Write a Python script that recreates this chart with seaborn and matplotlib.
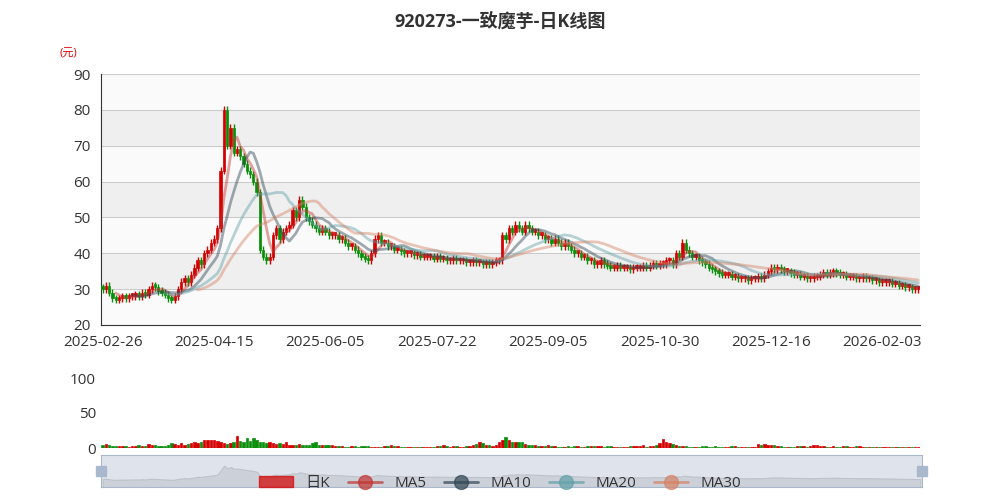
import numpy as np
import pandas as pd
import matplotlib
matplotlib.use('Agg')
import matplotlib.pyplot as plt
from matplotlib.lines import Line2D
from matplotlib.patches import Patch
import seaborn as sns

sns.set_style('white')
plt.rcParams['font.family'] = ['Open Sans', 'Noto Sans CJK SC', 'DejaVu Sans']
plt.rcParams['axes.unicode_minus'] = False

# 收盘价 (估读)
closes = [
    30, 31, 29, 27.5, 27, 27.5, 28, 27.5, 28, 28,
    28.5, 28, 29, 28.5, 30, 31, 30.5, 29.5, 29, 28.5,
    27.5, 27, 28, 30, 32, 33, 32, 34, 36, 38,
    37, 40, 41, 43, 44, 47, 63, 80, 70, 75,
    68, 69, 67, 65, 63, 62, 60, 57, 41, 39,
    38, 39, 45, 47, 44, 46, 47, 48, 52, 50,
    55, 53, 50, 49, 48, 47, 46, 47, 46, 45,
    45, 45, 44, 44, 43, 42, 42, 41, 40, 39,
    38.5, 38, 40, 44, 45, 43, 43, 42, 42, 41,
    41, 40.5, 40, 40, 40, 39.5, 39.5, 39, 39, 39,
    39, 38.5, 39, 38.5, 38.5, 38, 38, 38.5, 38, 38,
    38, 37.5, 37.5, 38, 37.5, 37.5, 37, 37.5, 37, 37.5,
    38, 38, 45, 44, 47, 46, 48, 47, 46, 48,
    47, 46, 46, 45, 45, 44, 44, 43, 44, 43,
    42, 43, 42, 41, 40, 40, 39, 39, 38, 38,
    37, 37, 38, 37, 36.5, 36, 36, 36.5, 36, 36,
    36, 35.5, 36, 36, 36, 36.5, 36, 36.5, 37, 36.5,
    37, 37, 38, 38, 37, 40, 39, 43, 41, 40,
    39, 39, 38, 37.5, 37, 36, 35.5, 35, 34.5, 34,
    34, 34, 33.5, 33.5, 33, 33, 33, 32.5, 33, 33,
    33.5, 33, 34, 35, 36, 35.5, 36, 35.5, 35, 35,
    34.5, 34, 34, 33.5, 33.5, 33, 33, 33.5, 33.5, 34,
    34.5, 34, 34.5, 35, 34.5, 34, 34, 33.5, 33.5, 33.5,
    33, 33, 33.5, 33, 33, 32.5, 32.5, 32, 32, 32,
    32, 31.5, 31.5, 31, 31, 30.5, 30.5, 30, 30, 30,
]
first_open = 30.5

# 成交量 (估读)
volumes = [
    4, 6, 5, 3, 3, 3, 3, 3, 2, 3,
    3, 4, 3, 3, 6, 5, 4, 3, 3, 3,
    5, 7, 6, 5, 7, 5, 6, 7, 8, 7,
    8, 12, 11, 11, 11, 10, 8, 7, 6, 7,
    8, 17, 10, 9, 14, 10, 15, 11, 9, 8,
    7, 9, 7, 6, 7, 6, 8, 5, 5, 5,
    6, 5, 4, 4, 7, 8, 5, 5, 4, 4,
    4, 3, 3, 3, 2, 2, 3, 3, 2, 3,
    3, 3, 2, 2, 2, 2, 3, 3, 4, 3,
    3, 2, 2, 2, 2, 2, 2, 2, 2, 2,
    2, 2, 3, 3, 4, 3, 2, 3, 3, 2,
    2, 3, 3, 5, 6, 9, 7, 5, 4, 3,
    5, 8, 11, 16, 11, 9, 8, 9, 8, 6,
    5, 4, 4, 3, 3, 3, 4, 3, 3, 2,
    2, 2, 3, 2, 3, 3, 2, 2, 3, 3,
    3, 3, 3, 2, 3, 3, 2, 2, 2, 2,
    2, 3, 3, 3, 3, 4, 2, 3, 3, 5,
    7, 13, 9, 7, 6, 4, 3, 3, 3, 2,
    2, 2, 2, 3, 3, 2, 2, 3, 2, 2,
    2, 2, 3, 3, 2, 2, 2, 2, 2, 2,
    6, 5, 6, 5, 4, 4, 3, 3, 2, 2,
    2, 2, 3, 3, 3, 2, 3, 4, 4, 3,
    3, 2, 2, 3, 2, 2, 3, 3, 2, 2,
    3, 3, 2, 2, 2, 2, 2, 2, 2, 2,
    2, 2, 2, 2, 2, 2, 2, 2, 2, 2,
]

tick_idx = [0, 34, 68, 102, 136, 170, 204, 238]
tick_labels = ['2025-02-26', '2025-04-15', '2025-06-05', '2025-07-22',
               '2025-09-05', '2025-10-30', '2025-12-16', '2026-02-03']

n = len(closes)
df = pd.DataFrame({'idx': np.arange(n), 'close': closes, 'vol': volumes[:n]})
df['open'] = [first_open] + closes[:-1]
df['high'] = df[['open', 'close']].max(axis=1) + 1.0
df['low'] = df[['open', 'close']].min(axis=1) - 1.0
df['up'] = df['close'] >= df['open']

UP, DOWN = '#d40000', '#0a8f0a'
ma_colors = {'MA5': '#c23531', 'MA10': '#2f4554', 'MA20': '#61a0a8', 'MA30': '#d48265'}

fig = plt.figure(figsize=(10, 5), dpi=100)
ax = fig.add_axes([0.101, 0.35, 0.819, 0.502])
axv = fig.add_axes([0.101, 0.104, 0.819, 0.14])
axs = fig.add_axes([0.101, 0.026, 0.821, 0.064])

# 背景分区
for k, lo in enumerate(range(20, 90, 10)):
    ax.axhspan(lo, lo + 10, color='#fafafa' if k % 2 == 0 else '#efefef', zorder=0, lw=0)
for y in range(30, 100, 10):
    ax.axhline(y, color='#cccccc', lw=0.8, zorder=1)

cols = np.where(df['up'], UP, DOWN)
ax.vlines(df['idx'], df['low'], df['high'], colors=cols, lw=1.0, zorder=3)
ax.bar(df['idx'], (df['close'] - df['open']).abs().clip(lower=0.8),
       bottom=df[['open', 'close']].min(axis=1), width=0.7, color=cols,
       edgecolor=cols, linewidth=0.5, zorder=3)

for name, col in ma_colors.items():
    w = int(name[2:])
    ma = df['close'].rolling(w).mean()
    sns.lineplot(x=df['idx'], y=ma, ax=ax, color=col, lw=2, alpha=0.45, zorder=4)

ax.set_xlim(-0.5, n - 0.5)
ax.set_ylim(20, 90)
ax.set_yticks(range(20, 100, 10))
ax.set_xticks(tick_idx)
ax.set_xticklabels(tick_labels)
ax.set_xlabel('')
ax.set_ylabel('')
ax.tick_params(labelsize=11, colors='#333333', length=4)
for s in ['top', 'right']:
    ax.spines[s].set_visible(False)
ax.spines['left'].set_color('#333333')
ax.spines['bottom'].set_color('#333333')
ax.text(-0.04, 1.07, '(元)', transform=ax.transAxes, color='#e00000', fontsize=8, ha='center')

# 成交量
axv.bar(df['idx'], df['vol'], width=0.75, color=cols, edgecolor=cols, linewidth=0.5)
axv.set_xlim(-0.5, n - 0.5)
axv.set_ylim(0, 100)
axv.set_yticks([0, 50, 100])
axv.set_xticks([])
axv.tick_params(labelsize=11, colors='#333333', length=0)
sns.despine(ax=axv, left=True, bottom=True)

# 缩放滑块
axs.set_facecolor('#dfe4ec')
axs.fill_between(df['idx'], df['close'], 0, color='#c8ccd4', alpha=0.8, lw=0.8, edgecolor='#b8bcc4')
axs.set_xlim(-0.5, n - 0.5)
axs.set_ylim(0, 120)
axs.set_xticks([])
axs.set_yticks([])
for s in axs.spines.values():
    s.set_color('#a9b8cc')
for xh in [-0.5, n - 0.5]:
    axs.plot([xh], [60], marker='s', ms=7, color='#a9b8cc', clip_on=False)

fig.suptitle('920273-一致魔芋-日K线图', y=0.975, fontsize=13, fontweight='bold', color='#333333')

handles = [Patch(facecolor=UP, edgecolor=UP, alpha=0.7, label='日K')]
for name, col in ma_colors.items():
    handles.append(Line2D([0], [0], color=col, lw=2, alpha=0.7, marker='o', ms=10, label=name))
fig.legend(handles=handles, loc='center', bbox_to_anchor=(0.5, 0.033), ncol=5, frameon=False,
           fontsize=11, handlelength=2.2, columnspacing=1.2, labelcolor='#333333')

fig.savefig('out.png', dpi=100)
